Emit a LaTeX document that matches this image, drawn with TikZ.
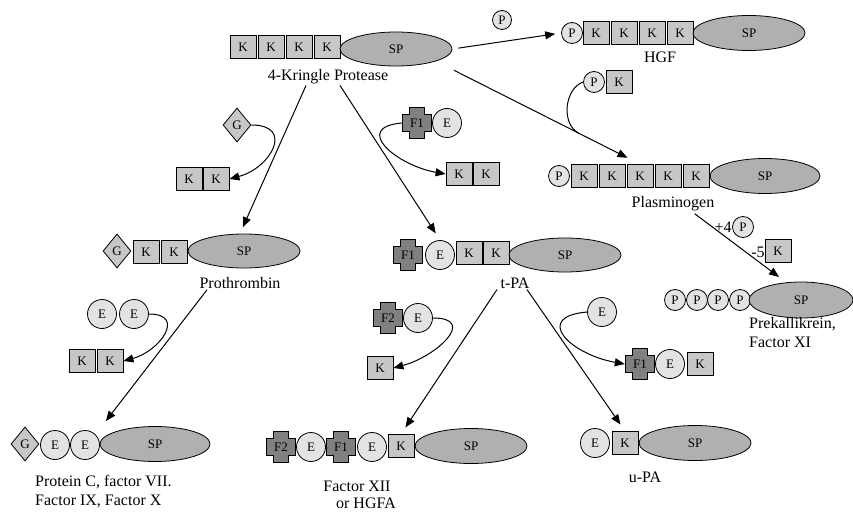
\documentclass[tikz,border=0pt]{standalone}
\usepackage{fontspec}
\setmainfont{Liberation Serif}
\usetikzlibrary{arrows.meta, shapes.geometric}
\definecolor{boxgray}{gray}{0.78}
\definecolor{beadgray}{gray}{0.89}
\definecolor{spgray}{gray}{0.69}
\definecolor{crossgray}{gray}{0.50}
\newcommand\boxfont{\fontsize{13}{15}\selectfont}
\newcommand\lblfont{\fontsize{16}{19}\selectfont}
\tikzset{
  kbox/.style={draw, fill=boxgray, line width=0.8pt, minimum width=26pt,
    minimum height=23pt, inner sep=0pt, font=\boxfont},
  ebead/.style={circle, draw, fill=beadgray, line width=0.8pt,
    minimum size=29pt, inner sep=0pt, font=\boxfont},
  pbead/.style={ebead, minimum size=21pt},
  gdiam/.style={diamond, draw, fill=boxgray, line width=0.8pt,
    minimum width=28pt, minimum height=34pt, inner sep=0pt, font=\boxfont},
  fcross/.style={minimum width=30pt, minimum height=32pt, inner sep=0pt, font=\boxfont,
    path picture={
      \draw[fill=crossgray, line width=0.8pt]
        ([xshift=-7.4pt, yshift=15.4pt]path picture bounding box.center)
        -- ([xshift=7.4pt, yshift=15.4pt]path picture bounding box.center)
        -- ([xshift=7.4pt, yshift=8.4pt]path picture bounding box.center)
        -- ([xshift=14.4pt, yshift=8.4pt]path picture bounding box.center)
        -- ([xshift=14.4pt, yshift=-8.4pt]path picture bounding box.center)
        -- ([xshift=7.4pt, yshift=-8.4pt]path picture bounding box.center)
        -- ([xshift=7.4pt, yshift=-15.4pt]path picture bounding box.center)
        -- ([xshift=-7.4pt, yshift=-15.4pt]path picture bounding box.center)
        -- ([xshift=-7.4pt, yshift=-8.4pt]path picture bounding box.center)
        -- ([xshift=-14.4pt, yshift=-8.4pt]path picture bounding box.center)
        -- ([xshift=-14.4pt, yshift=8.4pt]path picture bounding box.center)
        -- ([xshift=-7.4pt, yshift=8.4pt]path picture bounding box.center)
        -- cycle;
    }},
  spdom/.style={ellipse, draw, fill=spgray, line width=0.8pt, minimum width=112pt,
    minimum height=34pt, inner sep=0pt, font=\boxfont},
  lbl/.style={font=\lblfont, inner sep=1pt},
  conv/.style={-{Triangle[length=10pt, width=8pt]}, line width=1pt},
  cleave/.style={line width=1pt},
}

\begin{document}
\begin{tikzpicture}[x=1pt, y=-1pt]
\useasboundingbox (0,0) rectangle (853,513);

%% ─── 4-Kringle protease (top) ───────────────────────────────────────────────
\foreach \i/\x in {1/243, 2/271, 3/299, 4/327}
  \node[kbox] (kp-k\i) at (\x,47) {K};
\node[spdom] (kp-sp) at (396,49) {SP};
\node[lbl] (kp-lbl) at (328,77) {4-Kringle Protease};
\node[pbead, minimum size=19pt] (free-p) at (502,20) {P};

%% ─── HGF ────────────────────────────────────────────────────────────────────
\node[pbead] (hgf-p) at (572,33) {P};
\foreach \i/\x in {1/596, 2/624, 3/652, 4/680}
  \node[kbox] (hgf-k\i) at (\x,33) {K};
\node[spdom, minimum height=35pt] (hgf-sp) at (749,33) {SP};
\node[lbl] (hgf-lbl) at (660,57) {HGF};

%% ─── Plasminogen ────────────────────────────────────────────────────────────
\node[pbead] (pk-p) at (594,82) {P};
\node[kbox] (pk-k) at (619,82) {K};
\node[pbead] (plg-p) at (559,176) {P};
\foreach \i/\x in {1/584, 2/612, 3/640, 4/668, 5/696}
  \node[kbox] (plg-k\i) at (\x,176) {K};
\node[spdom, minimum width=110pt, minimum height=35pt] (plg-sp) at (765,176) {SP};
\node[lbl] (plg-lbl) at (673,204) {Plasminogen};

%% ─── Prekallikrein / factor XI ──────────────────────────────────────────────
\node[lbl] (plus4) at (723,227) {+4};
\node[pbead] (add-p) at (743,227) {P};
\node[lbl] (minus5) at (758,252) {-5};
\node[kbox] (rm-k) at (778,251) {K};
\foreach \i/\x in {1/675, 2/697, 3/718, 4/740}
  \node[pbead] (pkk-p\i) at (\x,300) {P};
\node[spdom, minimum width=104pt, minimum height=36pt] (pkk-sp) at (801,300) {SP};
\node[lbl, align=left, anchor=north west] (pkk-lbl) at (748,316)
  {Prekallikrein,\\Factor XI};
\coordinate (pkk-in) at (779,277);

%% ─── Prothrombin branch ─────────────────────────────────────────────────────
\node[gdiam] (g1) at (237,125) {G};
\node[kbox] (kk1-k1) at (189,179) {K};
\node[kbox] (kk1-k2) at (216,179) {K};
\node[gdiam] (pt-g) at (117,251) {G};
\node[kbox] (pt-k1) at (146,252) {K};
\node[kbox] (pt-k2) at (174,252) {K};
\node[spdom] (pt-sp) at (244,251) {SP};
\node[lbl] (pt-lbl) at (240,283) {Prothrombin};

%% ─── Protein C, factor VII, IX, X ───────────────────────────────────────────
\node[ebead] (ee-e1) at (102,314) {E};
\node[ebead] (ee-e2) at (134,314) {E};
\node[kbox] (kk2-k1) at (82,361) {K};
\node[kbox] (kk2-k2) at (110,361) {K};
\node[gdiam] (pc-g) at (25,444) {G};
\node[ebead] (pc-e1) at (55,445) {E};
\node[ebead] (pc-e2) at (85,445) {E};
\node[spdom, minimum width=110pt, minimum height=35pt] (pc-sp) at (155,444) {SP};
\node[lbl, align=left, anchor=west] (pc-lbl) at (34,492)
  {Protein C, factor VII.\\Factor IX, Factor X};

%% ─── t-PA branch ────────────────────────────────────────────────────────────
\node[fcross] (fe-f) at (417,123) {F1};
\node[ebead] (fe-e) at (447,123) {E};
\node[kbox] (kk3-k1) at (459,174) {K};
\node[kbox] (kk3-k2) at (486,174) {K};
\node[fcross] (tpa-f) at (408,255) {F1};
\node[ebead] (tpa-e) at (440,255) {E};
\node[kbox] (tpa-k1) at (469,253) {K};
\node[kbox] (tpa-k2) at (496,253) {K};
\node[spdom] (tpa-sp) at (565,255) {SP};
\node[lbl] (tpa-lbl) at (515,283) {t-PA};

%% ─── Factor XII / HGFA ──────────────────────────────────────────────────────
\node[fcross] (fe2-f) at (388,318) {F2};
\node[ebead] (fe2-e) at (418,318) {E};
\node[kbox] (k4) at (380,368) {K};
\node[fcross] (fx-f2) at (281,447) {F2};
\node[ebead] (fx-e1) at (311,447) {E};
\node[fcross] (fx-f1) at (341,447) {F1};
\node[ebead] (fx-e2) at (372,447) {E};
\node[kbox] (fx-k) at (401,446) {K};
\node[spdom, minimum height=35pt] (fx-sp) at (471,446) {SP};
\node[lbl] (fx-lbl) at (357,486) {Factor XII};
\node[lbl, inner sep=0pt] (fx-lbl2) at (366,503) {or HGFA};

%% ─── u-PA ───────────────────────────────────────────────────────────────────
\node[ebead] (e3) at (602,312) {E};
\node[fcross] (fek-f) at (640,364) {F1};
\node[ebead] (fek-e) at (670,364) {E};
\node[kbox] (fek-k) at (700,364) {K};
\node[ebead] (upa-e) at (595,443) {E};
\node[kbox] (upa-k) at (625,443) {K};
\node[spdom, minimum height=35pt] (upa-sp) at (695,443) {SP};
\node[lbl] (upa-lbl) at (645,477) {u-PA};

%% ─── Conversions ────────────────────────────────────────────────────────────
\draw[conv, shorten <=6pt, shorten >=6pt] (kp-sp.east) -- (hgf-p.west);
\draw[conv, shorten <=20pt, shorten >=14pt] (kp-sp.-17)
  -- coordinate[pos=0.70] (j-pk) (plg-k3.north);
\draw[conv, shorten <=2pt] ([xshift=20pt]plg-lbl.south) -- (pkk-in);
\draw[conv, shorten >=7pt] ([xshift=-22pt]kp-lbl.south) -- ([xshift=-4pt]pt-sp.north);
\draw[conv, shorten >=8pt] ([xshift=12pt]kp-lbl.south) -- (tpa-e.north);
\draw[conv, shorten >=17pt] ([xshift=-33pt]pt-lbl.south) -- (pc-e2.north east);
\draw[conv, shorten >=8pt] ([xshift=-18pt]tpa-lbl.south) -- (fx-k.north);
\draw[conv, shorten >=8pt] ([xshift=12pt]tpa-lbl.south) -- (upa-k.north);

%% ─── Excised domains ────────────────────────────────────────────────────────
\draw[cleave] (pk-p.west) to[out=200, in=153] (j-pk);
\draw[conv] (g1.east) to[out=0, in=15, looseness=1.9] (kk1-k2.east);
\draw[conv] (fe-f.west) to[out=185, in=170, looseness=1.9] (kk3-k1.west);
\draw[conv] (ee-e2.east) to[out=0, in=15, looseness=1.8] (kk2-k2.east);
\draw[conv] (fe2-e.east) to[out=0, in=15, looseness=1.8] (k4.east);
\draw[conv] (e3.west) to[out=185, in=170, looseness=2.2] (fek-f.west);

\end{tikzpicture}
\end{document}
